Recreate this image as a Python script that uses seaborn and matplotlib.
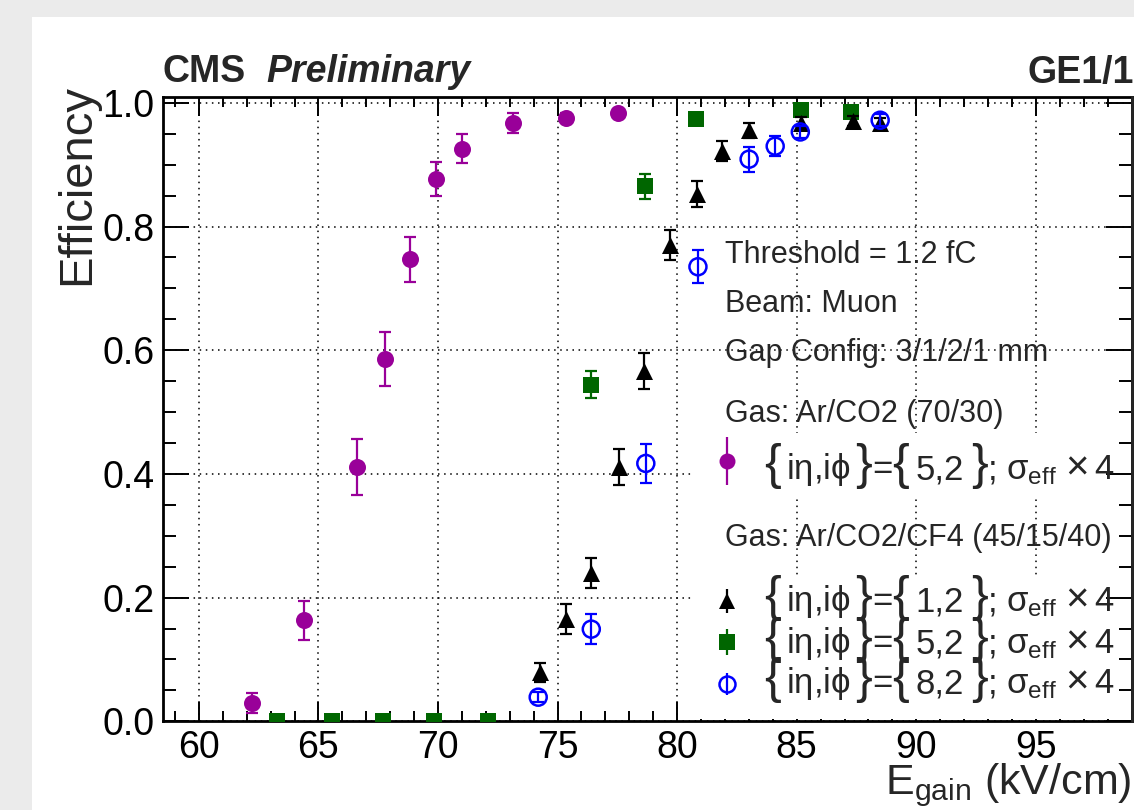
import matplotlib
matplotlib.use('Agg')
import matplotlib.pyplot as plt
import seaborn as sns
from matplotlib.lines import Line2D
from matplotlib.patches import Rectangle
from matplotlib.ticker import MultipleLocator, FormatStrFormatter

# --- data (E_gain in kV/cm, efficiency) ---
# Ar/CO2 (70/30), {ieta,iphi} = {5,2}
arco2_52_x = [62.24, 64.40, 66.63, 67.78, 68.83, 69.92, 70.99, 73.15, 75.37, 77.54]
arco2_52_y = [0.030, 0.163, 0.411, 0.586, 0.747, 0.877, 0.926, 0.968, 0.975, 0.984]
arco2_52_err = [0.016, 0.032, 0.045, 0.044, 0.036, 0.028, 0.024, 0.016, 0.008, 0.006]

# Ar/CO2/CF4 (45/15/40), {1,2}
cf4_12_x = [74.27, 75.35, 76.41, 77.56, 78.62, 79.72, 80.81, 81.89, 83.01, 85.19, 87.34, 88.47]
cf4_12_y = [0.079, 0.165, 0.240, 0.411, 0.566, 0.770, 0.852, 0.922, 0.956, 0.967, 0.971, 0.968]
cf4_12_err = [0.016, 0.024, 0.024, 0.029, 0.029, 0.024, 0.021, 0.016, 0.012, 0.010, 0.008, 0.008]

# Ar/CO2/CF4 (45/15/40), {5,2}
cf4_52_x = [63.28, 65.55, 67.69, 69.85, 72.09, 76.40, 78.64, 80.80, 85.19, 87.25]
cf4_52_y = [0.0, 0.0, 0.0, 0.0, 0.0, 0.544, 0.865, 0.974, 0.988, 0.986]
cf4_52_err = [0.0, 0.0, 0.0, 0.0, 0.0, 0.022, 0.020, 0.008, 0.005, 0.005]

# Ar/CO2/CF4 (45/15/40), {8,2}
cf4_82_x = [74.19, 76.41, 78.69, 80.87, 83.01, 84.10, 85.15, 88.49]
cf4_82_y = [0.039, 0.149, 0.417, 0.735, 0.909, 0.930, 0.953, 0.972]
cf4_82_err = [0.008, 0.024, 0.032, 0.027, 0.020, 0.016, 0.010, 0.010]

x_ticks = [60, 65, 70, 75, 80, 85, 90, 95]
y_ticks = [0.0, 0.2, 0.4, 0.6, 0.8, 1.0]

info_lines = ["Threshold = 1.2 fC", "Beam: Muon", "Gap Config: 3/1/2/1 mm"]
gas_a = "Gas: Ar/CO2 (70/30)"
gas_b = "Gas: Ar/CO2/CF4 (45/15/40)"
entry_cells = ["5,2", "1,2", "5,2", "8,2"]

PURPLE = "#990099"
GREEN = "#006600"
BLUE = "#0000ff"
BLACK = "#000000"

sns.set_theme(style="ticks")
plt.rcParams['font.family'] = ['Liberation Sans', 'DejaVu Sans']
plt.rcParams['mathtext.fontset'] = 'custom'
plt.rcParams['mathtext.rm'] = 'Liberation Sans'
plt.rcParams['mathtext.it'] = 'Liberation Sans:italic'
plt.rcParams['mathtext.bf'] = 'Liberation Sans:bold'
plt.rcParams['mathtext.default'] = 'regular'

W, H = 1134, 810
fig = plt.figure(figsize=(W / 100, H / 100), dpi=100)
fig.patch.set_facecolor("#ebebeb")
fig.add_artist(Rectangle((32 / W, 0), 1, 1 - 17 / H, transform=fig.transFigure,
                         facecolor="white", edgecolor="none", zorder=-10))

ax = fig.add_axes([163 / W, 1 - 721.3 / H, (1131.5 - 163) / W, (721.3 - 96.7) / H])
ax.set_facecolor("white")

series = [
    (arco2_52_x, arco2_52_y, arco2_52_err, PURPLE, "o", 150, True),
    (cf4_52_x, cf4_52_y, cf4_52_err, GREEN, "s", 135, True),
    (cf4_12_x, cf4_12_y, cf4_12_err, BLACK, "^", 150, True),
    (cf4_82_x, cf4_82_y, cf4_82_err, BLUE, "o", 150, False),
]

for i, (xs, ys, es, col, mk, size, filled) in enumerate(series):
    ax.errorbar(xs, ys, yerr=es, fmt="none", ecolor=col, elinewidth=1.6,
                capsize=4, capthick=1.6, zorder=3 + 2 * i)
    if filled:
        sns.scatterplot(x=xs, y=ys, ax=ax, marker=mk, s=size, color=col,
                        edgecolor=col, linewidth=0, zorder=4 + 2 * i)
    else:
        sns.scatterplot(x=xs, y=ys, ax=ax, marker=mk, s=size, color="none",
                        edgecolor=col, linewidth=1.8, zorder=4 + 2 * i)

ax.set_xlim(58.5, 99)
ax.set_ylim(0, 1.01)
ax.set_xticks(x_ticks)
ax.set_yticks(y_ticks)
ax.yaxis.set_major_formatter(FormatStrFormatter("%.1f"))
ax.xaxis.set_minor_locator(MultipleLocator(1))
ax.yaxis.set_minor_locator(MultipleLocator(0.05))
ax.grid(True, which="major", color="black", linestyle=(0, (1, 3)), linewidth=1.1)
ax.set_axisbelow(True)

for s in ax.spines.values():
    s.set_visible(True)
    s.set_linewidth(2.0)
    s.set_color("black")

ax.tick_params(axis="both", which="both", direction="in", top=True, right=False,
               colors="black", width=1.4)
ax.tick_params(axis="x", which="major", length=14, pad=6, labelsize=27)
ax.tick_params(axis="x", which="minor", length=7)
ax.tick_params(axis="y", which="major", length=19, pad=6, labelsize=27)
ax.tick_params(axis="y", which="minor", length=9.5)

# right-hand ticks on their own axis so the white legend boxes do not hide them
sec = ax.secondary_yaxis("right")
sec.set_yticks(y_ticks)
sec.yaxis.set_minor_locator(MultipleLocator(0.05))
sec.tick_params(axis="y", which="both", direction="in", labelright=False,
                colors="black", width=1.4)
sec.tick_params(axis="y", which="major", length=19)
sec.tick_params(axis="y", which="minor", length=9.5)
sec.spines["right"].set_linewidth(2.0)
sec.set_zorder(10)

ax.set_xlabel(r"$E_{gain}$ (kV/cm)", fontsize=31, loc="right")
ax.xaxis.set_label_coords(1.0, -0.064)
ax.set_ylabel("Efficiency", fontsize=34, loc="top")
ax.yaxis.set_label_coords(-0.066, 1.02)

# header
fig.text(163 / W, 1 - 82 / H, "CMS", fontsize=27, fontweight="bold", va="baseline")
fig.text(266 / W, 1 - 82 / H, "Preliminary", fontsize=27, fontweight="bold",
         fontstyle="italic", va="baseline")
fig.text(1.0, 1 - 83 / H, "GE1/1", fontsize=27, fontweight="bold", va="baseline", ha="right")

# info text
for txt, base in zip(info_lines, [263, 312, 361]):
    fig.text(725 / W, 1 - base / H, txt, fontsize=22, va="baseline", zorder=20)
fig.text(725 / W, 1 - 422 / H, gas_a, fontsize=22, va="baseline", zorder=20)
fig.text(725 / W, 1 - 546 / H, gas_b, fontsize=22, va="baseline", zorder=20)

# white boxes behind the two legend blocks (ROOT legends hide the grid there)
for top, bottom in [(433, 497), (578, 719)]:
    ax.add_patch(Rectangle((692 / W, 1 - bottom / H), (1131 - 692) / W, (bottom - top) / H,
                           transform=fig.transFigure, facecolor="white", edgecolor="none",
                           zorder=2.2, clip_on=False))


def handle(col, mk, bar, filled=True):
    vline = Line2D([], [], linestyle="none", marker="|", markersize=bar,
                   markeredgewidth=1.6, color=col)
    dot = Line2D([], [], linestyle="none", marker=mk, markersize=11.5,
                 markerfacecolor=col if filled else "none", markeredgecolor=col,
                 markeredgewidth=0 if filled else 1.8)
    return (vline, dot)


# legend keys: rows 41.5 px apart, marker centre at x = 727 px
leg_fs = 10
leg_px = leg_fs * 100 / 72
row_px = 41.5
hh = (row_px / leg_px - 0.245) / 0.65          # row height = fs*(0.65*hh + 0.245)
key_shift = 0.35 * leg_px * (hh - 0.7) / 2      # key sits this far above the row centre
leg_kw = dict(fontsize=leg_fs, frameon=False, handlelength=2.0, handleheight=hh,
              handletextpad=0, labelspacing=0, borderpad=0, borderaxespad=0,
              loc="center left", bbox_transform=fig.transFigure)
key_x = (727 - leg_px) / W
leg1 = ax.legend([handle(PURPLE, "o", 34)], [""],
                 bbox_to_anchor=(key_x, 1 - (461 + key_shift) / H), **leg_kw)
ax.add_artist(leg1)
ax.legend([handle(BLACK, "^", 17), handle(GREEN, "s", 19), handle(BLUE, "o", 16, False)],
          ["", "", ""], bbox_to_anchor=(key_x, 1 - (642 + key_shift) / H), **leg_kw)

# entry labels built piece by piece so the braces can be large like ROOT's
renderer = fig.canvas.get_renderer()


def draw_label(x0, base, cell):
    pieces = [("{", 36, 0), (r"i$\eta$,i$\phi$", 25, 5), ("}", 36, 5), ("=", 25, 0),
              ("{", 36, 0), (cell, 25, 6), ("}", 36, 8), (";", 25, 0),
              (r"$\sigma_{eff}$", 25, 8), ("\u00d7", 29, 8), ("4", 25, 6)]
    x = x0
    for txt, size, gap in pieces:
        x += gap
        t = fig.text(x / W, 1 - base / H, txt, fontsize=size, va="baseline", zorder=20)
        x = t.get_window_extent(renderer).x1


for cell, base in zip(entry_cells, [479, 611, 653, 693]):
    draw_label(764, base, cell)

fig.savefig("out.png", dpi=100, facecolor=fig.get_facecolor())
